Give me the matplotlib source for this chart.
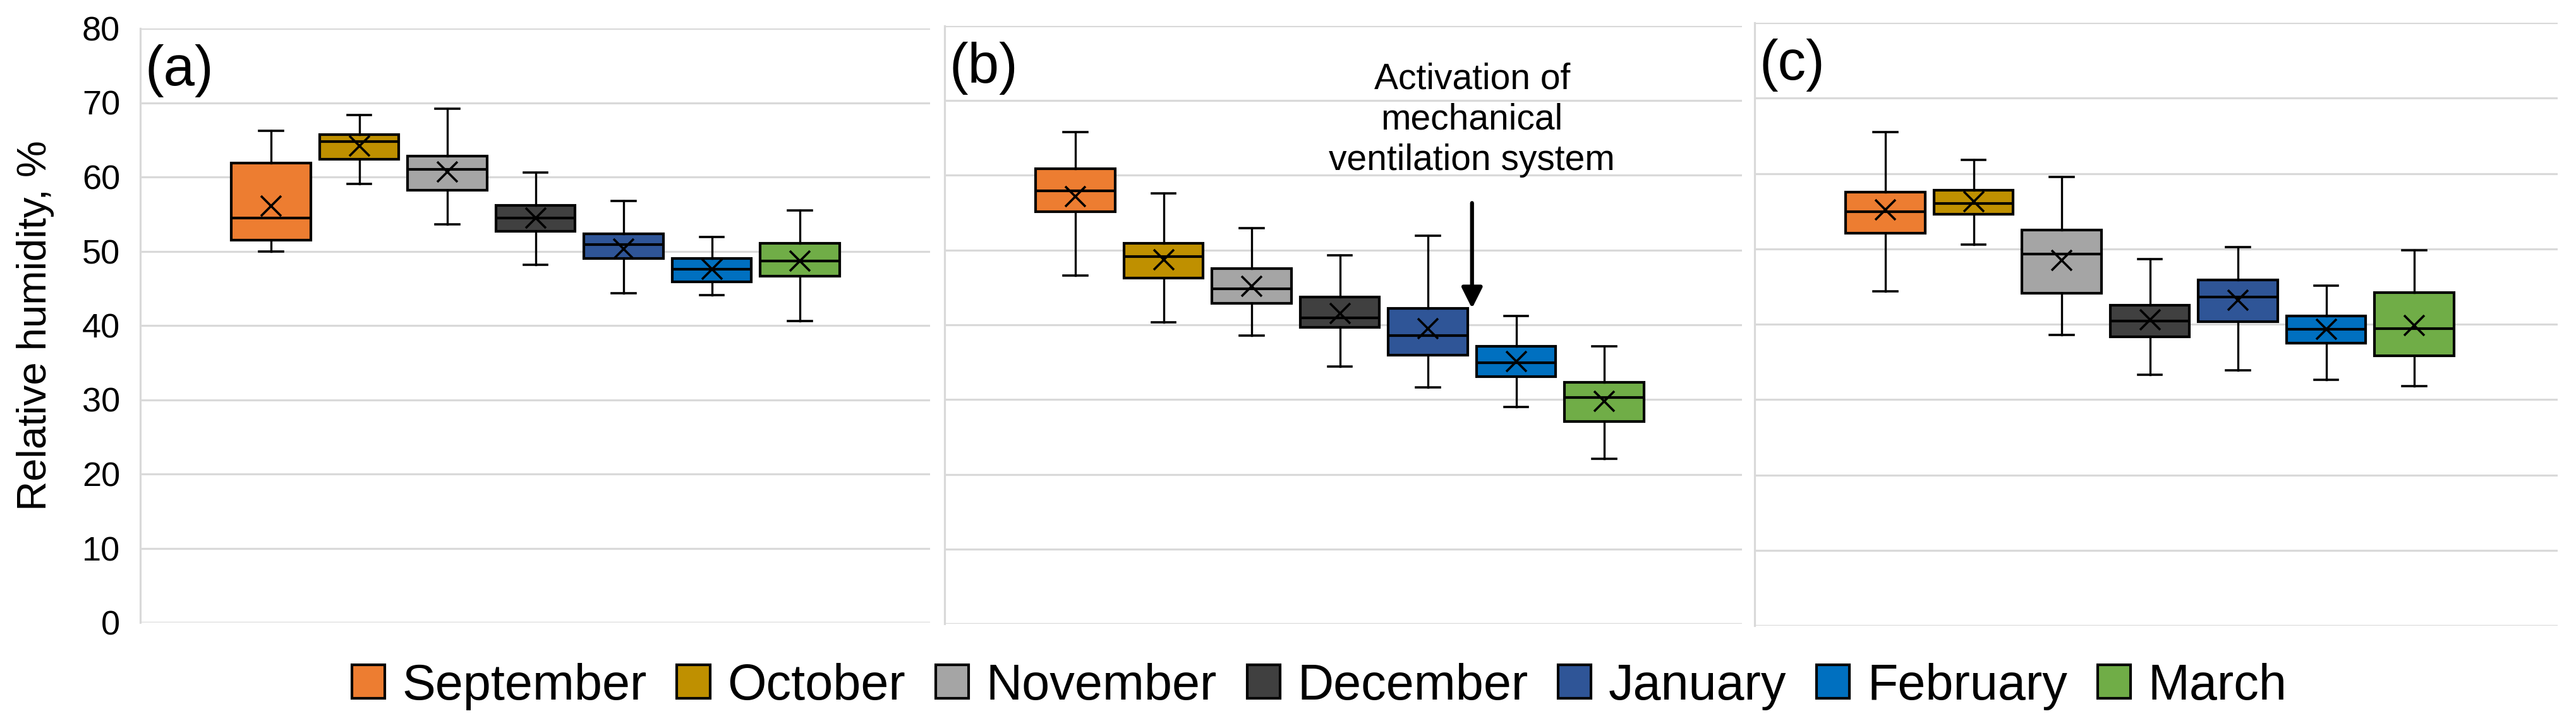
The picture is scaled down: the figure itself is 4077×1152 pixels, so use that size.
import matplotlib
matplotlib.use("Agg")
import matplotlib.pyplot as plt
from matplotlib.patches import Patch

plt.rcParams['font.family'] = ['Liberation Sans', 'DejaVu Sans']

# ======= Dane =======
months = ["September", "October", "November", "December", "January", "February", "March"]
colors = ["#ED7D31", "#BF9000", "#A5A5A5", "#404040", "#2F5597", "#0070C0", "#70AD47"]
yticks = [0, 10, 20, 30, 40, 50, 60, 70, 80]

# panel (a)
a_low = [50.0, 59.1, 53.6, 48.2, 44.3, 44.1, 40.6]
a_q1 = [51.5, 62.4, 58.2, 52.7, 49.0, 45.9, 46.6]
a_med = [54.5, 64.8, 61.0, 54.5, 50.9, 47.6, 48.7]
a_q3 = [61.9, 65.7, 62.8, 56.2, 52.3, 49.0, 51.1]
a_high = [66.2, 68.3, 69.2, 60.6, 56.8, 51.9, 55.5]
a_mean = [56.1, 64.2, 60.7, 54.5, 50.3, 47.6, 48.7]

# panel (b)
b_low = [46.6, 40.3, 38.6, 34.4, 31.6, 29.0, 22.1]
b_q1 = [55.1, 46.3, 42.9, 39.7, 35.9, 33.1, 27.1]
b_med = [57.9, 49.1, 44.8, 40.9, 38.6, 34.9, 30.3]
b_q3 = [60.9, 50.9, 47.5, 43.7, 42.2, 37.1, 32.3]
b_high = [65.8, 57.6, 52.9, 49.3, 51.9, 41.2, 37.1]
b_mean = [57.2, 48.7, 45.2, 41.5, 39.5, 35.1, 29.8]

# panel (c)
c_low = [44.4, 50.6, 38.6, 33.3, 33.9, 32.6, 31.8]
c_q1 = [52.1, 54.6, 44.1, 38.3, 40.3, 37.5, 35.8]
c_med = [54.9, 56.0, 49.3, 40.4, 43.6, 39.3, 39.4]
c_q3 = [57.5, 57.8, 52.5, 42.5, 45.9, 41.1, 44.2]
c_high = [65.5, 61.8, 59.5, 48.6, 50.2, 45.1, 49.8]
c_mean = [55.2, 56.3, 48.5, 40.6, 43.2, 39.3, 39.8]

panels = [
    ("(a)", a_low, a_q1, a_med, a_q3, a_high, a_mean),
    ("(b)", b_low, b_q1, b_med, b_q3, b_high, b_mean),
    ("(c)", c_low, c_q1, c_med, c_q3, c_high, c_mean),
]

# ======= Uklad (piksele obrazu 4077x1152) =======
W, H = 4077, 1152
# left, right, top (80), bottom (0)
rects_px = [(222, 1472, 45, 985), (1495, 2757, 41, 987), (2777, 4048, 36, 990)]

GRID = "#D9D9D9"

fig = plt.figure(figsize=(W / 100, H / 100), dpi=100)

for k, (label, low, q1, med, q3, high, mean) in enumerate(panels):
    l, r, t, b = rects_px[k]
    ax = fig.add_axes([l / W, 1 - b / H, (r - l) / W, (b - t) / H])

    stats = []
    for i in range(len(months)):
        stats.append(dict(whislo=low[i], q1=q1[i], med=med[i], q3=q3[i],
                          whishi=high[i], mean=mean[i], fliers=[]))
    bp = ax.bxp(stats, positions=list(range(len(months))), widths=0.9,
                patch_artist=True, showmeans=True, capwidths=0.27,
                boxprops=dict(edgecolor="black", linewidth=3.0),
                medianprops=dict(color="black", linewidth=3.0),
                whiskerprops=dict(color="black", linewidth=2.4),
                capprops=dict(color="black", linewidth=2.6),
                meanprops=dict(marker="x", markersize=23, markeredgewidth=2.6,
                               markeredgecolor="black"))
    for patch, col in zip(bp["boxes"], colors):
        patch.set_facecolor(col)

    px_per_unit = 139.5
    ax.set_xlim(-207 / px_per_unit, -207 / px_per_unit + (r - l) / px_per_unit)
    ax.set_ylim(0, 80)
    ax.set_yticks(yticks)
    ax.set_xticks([])
    ax.grid(axis="y", color=GRID, linewidth=2.3)
    ax.set_axisbelow(True)
    for s in ["top", "right", "bottom"]:
        ax.spines[s].set_visible(False)
    ax.spines["left"].set_color(GRID)
    ax.spines["left"].set_linewidth(2.3)
    ax.tick_params(axis="y", length=0, pad=23, labelsize=39)
    if k > 0:
        ax.tick_params(axis="y", labelleft=False)

    ax.text(0.006, (b - t - 90) / (b - t), label, transform=ax.transAxes,
            fontsize=64, va="baseline", ha="left")

    if label == "(b)":
        ax.text(4.5, 67.4, "Activation of\nmechanical\nventilation system",
                fontsize=41, ha="center", va="center", linespacing=1.24)
        ax.annotate("", xy=(4.5, 42.2), xytext=(4.5, 56.3),
                    arrowprops=dict(arrowstyle="-|>,head_length=0.6,head_width=0.3",
                                    lw=4.5, color="black", mutation_scale=33,
                                    shrinkA=0, shrinkB=0))

fig.text(56 / W, 1 - 515 / H, "Relative humidity, %", rotation=90,
         fontsize=47, ha="center", va="center")

handles = [Patch(facecolor=c, edgecolor="black", linewidth=3, label=m)
           for m, c in zip(months, colors)]
fig.legend(handles=handles, loc="center", bbox_to_anchor=(2088 / W, 1 - 1086 / H),
           ncol=7, frameon=False, fontsize=57, handlelength=0.66, handleheight=0.66,
           handletextpad=0.35, columnspacing=0.6)

fig.savefig("out.png", dpi=100)
